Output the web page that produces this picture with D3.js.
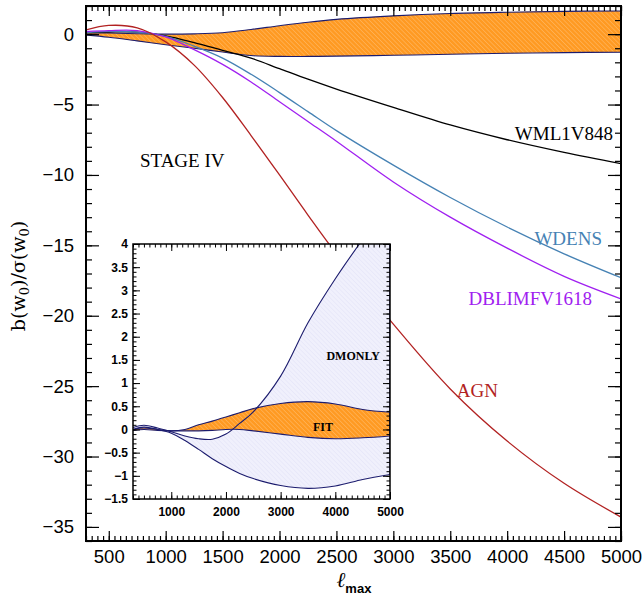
<!DOCTYPE html>
<html><head><meta charset="utf-8">
<script src="https://cdn.jsdelivr.net/npm/d3@7/dist/d3.min.js"></script>
<style>body{margin:0;background:#fff}</style>
</head><body>
<svg id="c" width="644" height="600"></svg>
<script>
// ---------- data ----------
const lmax = [300, 500, 750, 1000, 1250, 1500, 1750, 2000, 2250, 2500, 3000, 3500, 4000, 4500, 5000];
const wml1v848   = [0.10, 0.15, 0.15, -0.12, -0.6, -1.15, -1.7, -2.45, -3.2, -3.9, -5.2, -6.45, -7.5, -8.4, -9.2];
const wdens      = [0.10, 0.20, 0.15, -0.15, -0.85, -1.7, -2.85, -4.15, -5.5, -6.85, -9.3, -11.6, -13.7, -15.6, -17.3];
const dblimfv    = [0.18, 0.25, 0.25, -0.2, -1.1, -2.15, -3.4, -4.8, -6.2, -7.6, -10.5, -13.0, -15.2, -17.2, -18.8];
const agn        = [0.30, 0.62, 0.45, -0.55, -2.2, -4.5, -7.2, -10.0, -12.85, -15.6, -20.6, -25.2, -28.9, -31.9, -34.3];
const fitUpper   = [0.10, 0.08, 0.03, 0.0, 0.02, 0.10, 0.33, 0.6, 0.85, 1.05, 1.3, 1.47, 1.56, 1.62, 1.65];
const fitLower   = [-0.05, -0.22, -0.48, -0.75, -1.0, -1.27, -1.52, -1.58, -1.58, -1.56, -1.5, -1.43, -1.36, -1.31, -1.28];
// inset
const dmUpper    = [0.04, 0.09, 0.03, -0.05, -0.14, -0.2, -0.21, -0.1, 0.13, 0.38, 1.15, 2.3, 3.25, 4.1, 4.9];
const dmLower    = [0.0, 0.05, 0.0, -0.08, -0.24, -0.43, -0.63, -0.8, -0.95, -1.06, -1.21, -1.27, -1.22, -1.08, -0.97];
const fiUpper    = [0.0, 0.03, 0.0, -0.03, 0.0, 0.10, 0.18, 0.27, 0.36, 0.45, 0.56, 0.6, 0.55, 0.43, 0.37];
const fiLower    = [-0.02, 0.0, -0.02, -0.03, -0.03, -0.03, -0.02, 0.0, 0.0, -0.03, -0.1, -0.17, -0.2, -0.18, -0.14];

const xTicks = [500,1000,1500,2000,2500,3000,3500,4000,4500,5000];
const yTicks = [0,-5,-10,-15,-20,-25,-30,-35];
const ixTicks = [1000,2000,3000,4000,5000];
const iyTicks = [4,3.5,3,2.5,2,1.5,1,0.5,0,-0.5,-1,-1.5];

const series = [
  {name:"WML1V848", v:wml1v848, color:"#000000"},
  {name:"WDENS", v:wdens, color:"#4682b4"},
  {name:"DBLIMFV1618", v:dblimfv, color:"#a020f0"},
  {name:"AGN", v:agn, color:"#b22222"}
];

// ---------- setup ----------
const svg = d3.select("#c");
const X0=86, X1=621, Y0=6, Y1=541;
const x = d3.scaleLinear([300,5000],[X0,X1]);
const y = d3.scaleLinear([-36,2],[Y1,Y0]);
const IX0=133, IX1=390, IY0=244, IY1=499;
const xi = d3.scaleLinear([300,5000],[IX0,IX1]);
const yi = d3.scaleLinear([-1.5,4],[IY1,IY0]);
const curve = d3.curveCatmullRom.alpha(0.5);
const navy = "#1c1c6e";

const defs = svg.append("defs");
function hatch(id, base, stripe, w){
  const p = defs.append("pattern").attr("id",id).attr("patternUnits","userSpaceOnUse")
    .attr("width",3.2).attr("height",3.2).attr("patternTransform","rotate(-45)");
  p.append("rect").attr("width",3.2).attr("height",3.2).attr("fill",base);
  p.append("line").attr("x1",0).attr("y1",0).attr("x2",0).attr("y2",3.2).attr("stroke",stripe).attr("stroke-width",w);
}
hatch("hO","#ff9a22","#ffc47a",0.9);
hatch("hL","#ececfb","#d6d6f3",0.8);
defs.append("clipPath").attr("id","mainClip").append("rect").attr("x",X0).attr("y",Y0).attr("width",X1-X0).attr("height",Y1-Y0);
defs.append("clipPath").attr("id","insClip").append("rect").attr("x",IX0).attr("y",IY0).attr("width",IX1-IX0).attr("height",IY1-IY0);

const main = svg.append("g").attr("clip-path","url(#mainClip)");
const idx = d3.range(lmax.length);

// main band
const areaM = d3.area().x(i=>x(lmax[i])).y0(i=>y(fitLower[i])).y1(i=>y(fitUpper[i])).curve(curve);
main.append("path").attr("d",areaM(idx)).attr("fill","url(#hO)");
const lineM = arr => d3.line().x(i=>x(lmax[i])).y(i=>y(arr[i])).curve(curve)(idx);
main.append("path").attr("d",lineM(fitUpper)).attr("fill","none").attr("stroke",navy).attr("stroke-width",1.1);
main.append("path").attr("d",lineM(fitLower)).attr("fill","none").attr("stroke",navy).attr("stroke-width",1.1);

series.slice(0,3).forEach(s=>{
  main.append("path").attr("d",lineM(s.v)).attr("fill","none").attr("stroke",s.color).attr("stroke-width",1.3);
});

// inset background
svg.append("rect").attr("x",IX0).attr("y",IY0).attr("width",IX1-IX0).attr("height",IY1-IY0).attr("fill","#fff");
// red line over everything
main.append("path").attr("d",lineM(agn)).attr("fill","none").attr("stroke",series[3].color).attr("stroke-width",1.3);

// inset bands
const ins = svg.append("g").attr("clip-path","url(#insClip)");
const areaI = (lo,hi)=> d3.area().x(i=>xi(lmax[i])).y0(i=>yi(lo[i])).y1(i=>yi(hi[i])).curve(curve)(idx);
const lineI = arr => d3.line().x(i=>xi(lmax[i])).y(i=>yi(arr[i])).curve(curve)(idx);
ins.append("path").attr("d",areaI(dmLower,dmUpper)).attr("fill","url(#hL)").attr("opacity",0.8);
ins.append("path").attr("d",areaI(fiLower,fiUpper)).attr("fill","url(#hO)");
[dmUpper,dmLower,fiUpper,fiLower].forEach(a=>{
  ins.append("path").attr("d",lineI(a)).attr("fill","none").attr("stroke",navy).attr("stroke-width",1.1);
});
ins.append("line").attr("x1",xi(5000)).attr("x2",xi(5000)).attr("y1",yi(dmLower[dmLower.length-1])).attr("y2",IY0)
  .attr("stroke",navy).attr("stroke-width",1.5);

// ---------- main axes ----------
const tickFont = "'Liberation Sans', Arial, sans-serif";
function axisG(axis, tx, ty){ return svg.append("g").attr("transform",`translate(${tx},${ty})`).call(axis); }
const minorX = d3.range(300,5001,50);
const minorY = d3.range(-36,2.01,1);
const ax = [
  axisG(d3.axisBottom(x).tickValues(minorX).tickSize(-5).tickFormat(""),0,Y1),
  axisG(d3.axisTop(x).tickValues(minorX).tickSize(-5).tickFormat(""),0,Y0),
  axisG(d3.axisLeft(y).tickValues(minorY).tickSize(-6).tickFormat(""),X0,0),
  axisG(d3.axisRight(y).tickValues(minorY).tickSize(-6).tickFormat(""),X1,0),
  axisG(d3.axisBottom(x).tickValues(xTicks).tickSize(-10).tickPadding(9).tickFormat(d3.format("d")),0,Y1),
  axisG(d3.axisTop(x).tickValues(xTicks).tickSize(-10).tickFormat(""),0,Y0),
  axisG(d3.axisLeft(y).tickValues(yTicks).tickSize(-13).tickPadding(12).tickFormat(d3.format("d")),X0,0),
  axisG(d3.axisRight(y).tickValues(yTicks).tickSize(-13).tickFormat(""),X1,0)
];
ax.forEach(g=>{
  g.select(".domain").remove();
  g.selectAll("line").attr("stroke","#000").attr("stroke-width",1.2);
  g.selectAll("text").attr("font-family",tickFont).attr("font-size",18.5).attr("fill","#000");
});
svg.append("rect").attr("x",X0).attr("y",Y0).attr("width",X1-X0).attr("height",Y1-Y0)
  .attr("fill","none").attr("stroke","#000").attr("stroke-width",2);

// ---------- inset axes ----------
const iminX = d3.range(300,5001,100);
const iminY = d3.range(-1.5,4.001,0.1).map(v=>+v.toFixed(2));
const iax = [
  axisG(d3.axisBottom(xi).tickValues(iminX).tickSize(-3.5).tickFormat(""),0,IY1),
  axisG(d3.axisTop(xi).tickValues(iminX).tickSize(-3.5).tickFormat(""),0,IY0),
  axisG(d3.axisLeft(yi).tickValues(iminY).tickSize(-3.5).tickFormat(""),IX0,0),
  axisG(d3.axisRight(yi).tickValues(iminY).tickSize(-3.5).tickFormat(""),IX1,0),
  axisG(d3.axisBottom(xi).tickValues(ixTicks).tickSize(-7).tickPadding(8).tickFormat(d3.format("d")),0,IY1),
  axisG(d3.axisTop(xi).tickValues(ixTicks).tickSize(-7).tickFormat(""),0,IY0),
  axisG(d3.axisLeft(yi).tickValues(iyTicks).tickSize(-7).tickPadding(5).tickFormat(d3.format("")),IX0,0),
  axisG(d3.axisRight(yi).tickValues(iyTicks).tickSize(-7).tickFormat(""),IX1,0)
];
iax.forEach(g=>{
  g.select(".domain").remove();
  g.selectAll("line").attr("stroke","#000").attr("stroke-width",1);
  g.selectAll("text").attr("font-family",tickFont).attr("font-weight","bold").attr("font-size",12).attr("fill","#000");
});
svg.append("rect").attr("x",IX0).attr("y",IY0).attr("width",IX1-IX0).attr("height",IY1-IY0)
  .attr("fill","none").attr("stroke","#000").attr("stroke-width",1.5);

// ---------- text ----------
const serif = "'Liberation Serif', 'Times New Roman', serif";
svg.append("text").attr("x",140).attr("y",167).attr("font-family",serif).attr("font-size",19).text("STAGE IV");
const labels = [
  {s:series[0], x:613, y:140},
  {s:series[1], x:602, y:245},
  {s:series[2], x:592, y:305},
  {s:series[3], x:498, y:397}
];
labels.forEach(l=>{
  svg.append("text").attr("x",l.x).attr("y",l.y).attr("text-anchor","end").attr("font-family",serif)
    .attr("font-size",19).attr("fill",l.s.color).text(l.s.name);
});
svg.append("text").attr("x",380).attr("y",360).attr("text-anchor","end").attr("font-family",serif)
  .attr("font-weight","bold").attr("font-size",12).text("DMONLY");
svg.append("text").attr("x",323).attr("y",431).attr("text-anchor","middle").attr("font-family",serif)
  .attr("font-weight","bold").attr("font-size",12).text("FIT");

// y label
const yl = svg.append("text").attr("transform","translate(25,276) rotate(-90)").attr("text-anchor","middle")
  .attr("font-family","'DejaVu Serif', serif").attr("font-size",19);
yl.append("tspan").text("b(w");
yl.append("tspan").attr("font-size",13).attr("dy",4).text("0");
yl.append("tspan").attr("dy",-4).text(")/σ(w");
yl.append("tspan").attr("font-size",13).attr("dy",4).text("0");
yl.append("tspan").attr("dy",-4).text(")");

// x label
const xl = svg.append("text").attr("x",354).attr("y",587).attr("text-anchor","middle");
xl.append("tspan").attr("font-family","'DejaVu Serif', serif").attr("font-style","italic").attr("font-size",21).text("ℓ");
xl.append("tspan").attr("font-family",tickFont).attr("font-weight","bold").attr("font-size",13).attr("dy",6).text("max");
</script>
</body></html>
